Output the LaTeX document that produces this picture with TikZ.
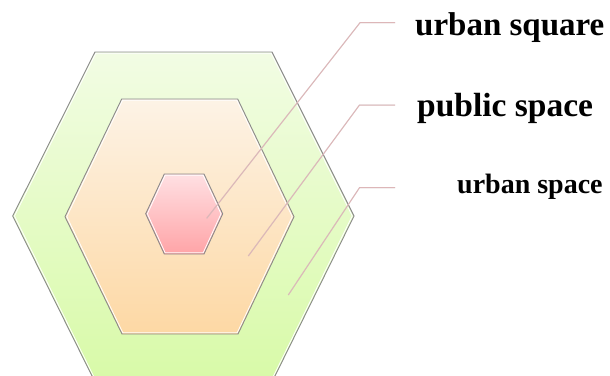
\documentclass[tikz,border=0pt]{standalone}
\usepackage{fontspec}
\setmainfont{Liberation Serif}
\definecolor{outerTop}{HTML}{F2FCE4}
\definecolor{outerBot}{HTML}{D8FAA8}
\definecolor{midTop}{HTML}{FDF3E6}
\definecolor{midBot}{HTML}{FDD8A4}
\definecolor{innTop}{HTML}{FFE0E3}
\definecolor{innBot}{HTML}{FFA4A7}
\definecolor{edge}{HTML}{8A8A8A}
\definecolor{leader}{HTML}{DDB6B8}
\tikzset{
  hexedge/.style={draw=edge, line width=0.9pt, line join=miter},
  hexinner/.style={draw=white, line width=0.8pt},
  leaderline/.style={draw=leader, line width=1pt},
  leadershadow/.style={draw=black!25, line width=1.2pt, opacity=0.35},
  lbl/.style={anchor=base west, inner sep=0pt, font=\bfseries}
}
\begin{document}
\begin{tikzpicture}[x=1pt,y=-1pt]
\useasboundingbox (0,0) rectangle (610,375);
% outer hexagon
\shade[top color=outerTop, bottom color=outerBot]
  (12.7,216) -- (95,52) -- (272,52) -- (354,216) -- (273,380) -- (94,380) -- cycle;
\draw[hexinner] (14.5,216) -- (95.8,53.3) -- (271.2,53.3) -- (352.2,216) -- (272.2,378.7) -- (94.8,378.7) -- cycle;
\draw[hexedge] (12.7,216) -- (95,52) -- (272,52) -- (354,216) -- (273,380) -- (94,380) -- cycle;
% middle hexagon
\shade[top color=midTop, bottom color=midBot]
  (65,216.7) -- (121.7,99) -- (237.7,99) -- (294,216.7) -- (238,334) -- (122,334) -- cycle;
\draw[hexinner] (66.8,216.7) -- (122.5,100.3) -- (236.9,100.3) -- (292.2,216.7) -- (237.2,332.7) -- (122.8,332.7) -- cycle;
\draw[hexedge] (65,216.7) -- (121.7,99) -- (237.7,99) -- (294,216.7) -- (238,334) -- (122,334) -- cycle;
% inner hexagon
\shade[top color=innTop, bottom color=innBot]
  (145.7,213.8) -- (164.3,174) -- (204,174) -- (222.7,213.8) -- (204,254) -- (164.3,254) -- cycle;
\draw[hexinner] (147.4,213.8) -- (165.1,175.3) -- (203.2,175.3) -- (221,213.8) -- (203.2,252.7) -- (165.1,252.7) -- cycle;
\draw[hexedge] (145.7,213.8) -- (164.3,174) -- (204,174) -- (222.7,213.8) -- (204,254) -- (164.3,254) -- cycle;
% leader coordinates
\coordinate (s1) at (206.7,218.3);
\coordinate (e1) at (360,22.7);
\coordinate (h1) at (395,22.7);
\coordinate (s2) at (248.3,256);
\coordinate (e2) at (359.5,105);
\coordinate (h2) at (395,105);
\coordinate (s3) at (288.3,295);
\coordinate (e3) at (359.5,187.7);
\coordinate (h3) at (395,187.7);
% shadows
\begin{scope}[shift={(1.5,-2)}]
\draw[leadershadow] (s1) -- (e1) -- (h1);
\draw[leadershadow] (s2) -- (e2) -- (h2);
\draw[leadershadow] (s3) -- (e3) -- (h3);
\end{scope}
\draw[leaderline] (s1) -- (e1) -- (h1);
\draw[leaderline] (s2) -- (e2) -- (h2);
\draw[leaderline] (s3) -- (e3) -- (h3);
% labels
\node[lbl, font=\bfseries\fontsize{33}{33}\selectfont] (t1) at (415,35) {urban square};
\node[lbl, font=\bfseries\fontsize{33.5}{33}\selectfont] (t2) at (417,116.7) {public space};
\node[lbl, font=\bfseries\fontsize{28}{28}\selectfont] (t3) at (457,193.3) {urban space};
\end{tikzpicture}
\end{document}
